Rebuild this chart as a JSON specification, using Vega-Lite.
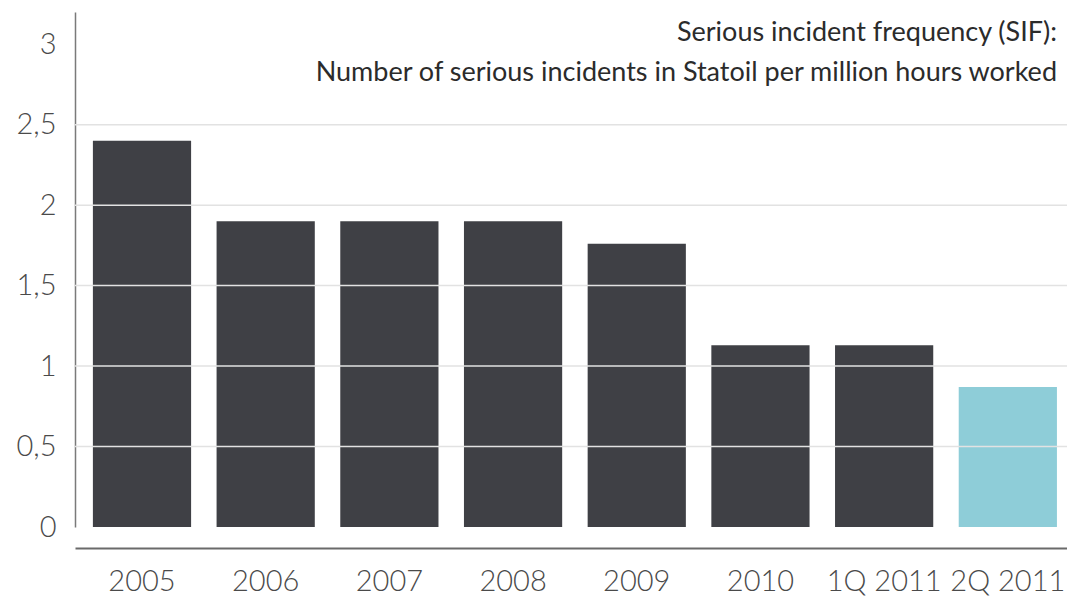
{
  "$schema": "https://vega.github.io/schema/vega-lite/v6.json",
  "autosize": {"type": "none"},
  "width": 992,
  "height": 515,
  "padding": {"left": 75, "top": 12, "right": 0, "bottom": 69},
  "background": "white",
  "config": {"view": {"stroke": null}, "font": "Lato"},
  "title": {
    "text": ["Serious incident frequency (SIF):", "Number of serious incidents in Statoil per million hours worked"],
    "anchor": "end",
    "frame": "group",
    "orient": "top",
    "baseline": "alphabetic",
    "offset": -96,
    "fontSize": 27,
    "fontWeight": 400,
    "font": "Lato",
    "color": "#2b2b2b",
    "lineHeight": 40,
    "dx": -10
  },
  "layer": [
    {
      "data": {"values": [
        {"period": "2005", "sif": 2.4},
        {"period": "2006", "sif": 1.9},
        {"period": "2007", "sif": 1.9},
        {"period": "2008", "sif": 1.9},
        {"period": "2009", "sif": 1.76},
        {"period": "2010", "sif": 1.13},
        {"period": "1Q 2011", "sif": 1.13},
        {"period": "2Q 2011", "sif": 0.87}
      ]},
      "mark": {"type": "bar"},
      "encoding": {
        "x": {
          "field": "period", "type": "nominal", "sort": null,
          "scale": {"paddingInner": 0.206, "paddingOuter": 0.113, "align": 0.64},
          "axis": {
            "title": null, "labelAngle": 0, "ticks": false, "offset": 21,
            "domainColor": "#6a6a6a", "domainWidth": 2,
            "labelFontSize": 29, "labelFont": "Lato", "labelFontWeight": 300,
            "labelColor": "#4a4a4a", "labelPadding": 19, "grid": false
          }
        },
        "y": {
          "field": "sif", "type": "quantitative",
          "scale": {"domain": [0, 3.2], "nice": false},
          "axis": {
            "title": null, "values": [0, 0.5, 1, 1.5, 2, 2.5, 3], "ticks": false,
            "grid": false, "domainColor": "#7a7a7a", "domainWidth": 1.5,
            "labelExpr": "replace(format(datum.value, '~g'), '.', ',')",
            "labelFontSize": 29, "labelFont": "Lato", "labelFontWeight": 300,
            "labelColor": "#4a4a4a", "labelPadding": 19
          }
        },
        "color": {
          "condition": {"test": "datum.period === '2Q 2011'", "value": "#8ecdd8"},
          "value": "#3f4045"
        }
      }
    },
    {
      "data": {"values": [{"g": 0.5}, {"g": 1}, {"g": 1.5}, {"g": 2}, {"g": 2.5}]},
      "mark": {"type": "rule", "color": "#e2e2e2", "strokeWidth": 1.5},
      "encoding": {"y": {"field": "g", "type": "quantitative"}}
    }
  ]
}
